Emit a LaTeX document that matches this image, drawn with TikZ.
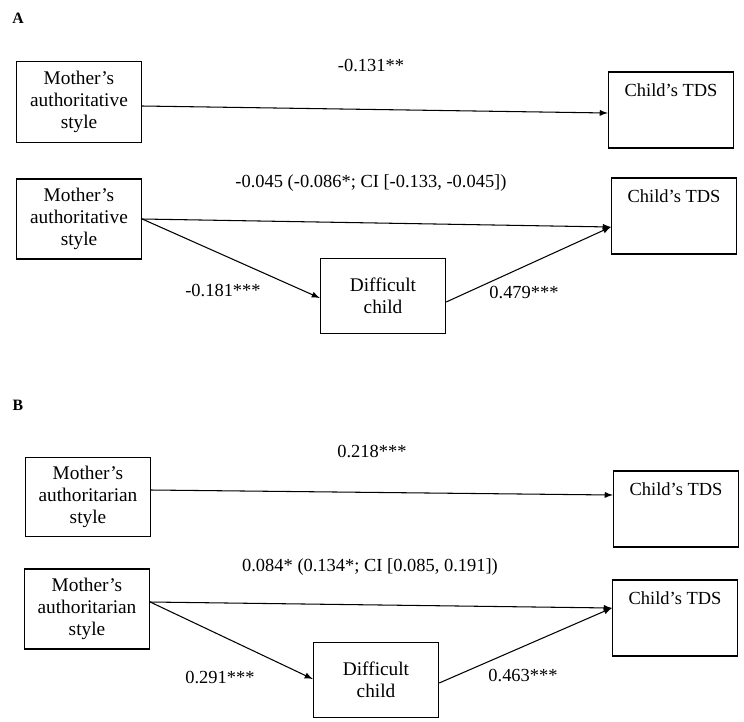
\documentclass[tikz,border=0pt]{standalone}
\usepackage{fontspec}
\setmainfont{Liberation Serif}
\begin{document}
\begin{tikzpicture}
[box/.style={draw, thick, fill=white, align=center, minimum width=2.5cm, font=\fontsize{11}{12.5}\selectfont},
 tds/.style={box, minimum height=1.52cm, label={[lab, anchor=north, yshift=-0.12cm]north:Child's TDS}},
 lab/.style={font=\fontsize{10.5}{12}\selectfont},
 >=latex, semithick, x=0.02cm, y=-0.02cm]
\useasboundingbox (0,0) rectangle (744,721);
\node[font=\bfseries\small] (A) at (18,18) {A};
\node[font=\bfseries\small] (B) at (18,405) {B};

% panel A
\node[box, minimum height=1.62cm] (MA1) at (79,102) {Mother's\\authoritative\\style};
\node[tds] (TA1) at (671,110) {};
\draw[->] ([yshift=-0.08cm]MA1.east) -- ([yshift=-0.06cm]TA1.west);
\node[lab] (cA1) at (371,65) {-0.131**};

\node[box, minimum height=1.6cm] (MA2) at (79,219) {Mother's\\authoritative\\style};
\node[tds] (TA2) at (674,216) {};
\node[box, minimum height=1.5cm] (DA) at (383,296) {Difficult\\child};
\draw[->] (MA2.east) -- ([yshift=-0.22cm]TA2.west);
\draw[->] (MA2.east) -- ([yshift=-0.04cm]DA.west);
\draw[->] ([yshift=-0.12cm]DA.east) -- ([yshift=-0.22cm]TA2.west);
\node[lab] (cA2) at (371,183) {-0.045 (-0.086*; CI [-0.133, -0.045])};
\node[lab] (aA) at (223,290) {-0.181***};
\node[lab] (bA) at (524,292) {0.479***};

% panel B
\node[box, minimum height=1.58cm] (MB1) at (88,497) {Mother's\\authoritarian\\style};
\node[tds] (TB1) at (676,509) {};
\draw[->] ([yshift=0.14cm]MB1.east) -- ([yshift=0.28cm]TB1.west);
\node[lab] (cB1) at (372,451) {0.218***};

\node[box, minimum height=1.6cm] (MB2) at (87,609) {Mother's\\authoritarian\\style};
\node[tds] (TB2) at (675,618) {};
\node[box, minimum height=1.5cm] (DB) at (376,680) {Difficult\\child};
\draw[->] ([yshift=0.14cm]MB2.east) -- ([yshift=0.2cm]TB2.west);
\draw[->] ([yshift=0.14cm]MB2.east) -- ([yshift=0.02cm]DB.west);
\draw[->] ([yshift=-0.06cm]DB.east) -- ([yshift=0.2cm]TB2.west);
\node[lab] (cB2) at (370,567) {0.084* (0.134*; CI [0.085, 0.191])};
\node[lab] (aB) at (220,677) {0.291***};
\node[lab] (bB) at (523,675) {0.463***};
\end{tikzpicture}
\end{document}
